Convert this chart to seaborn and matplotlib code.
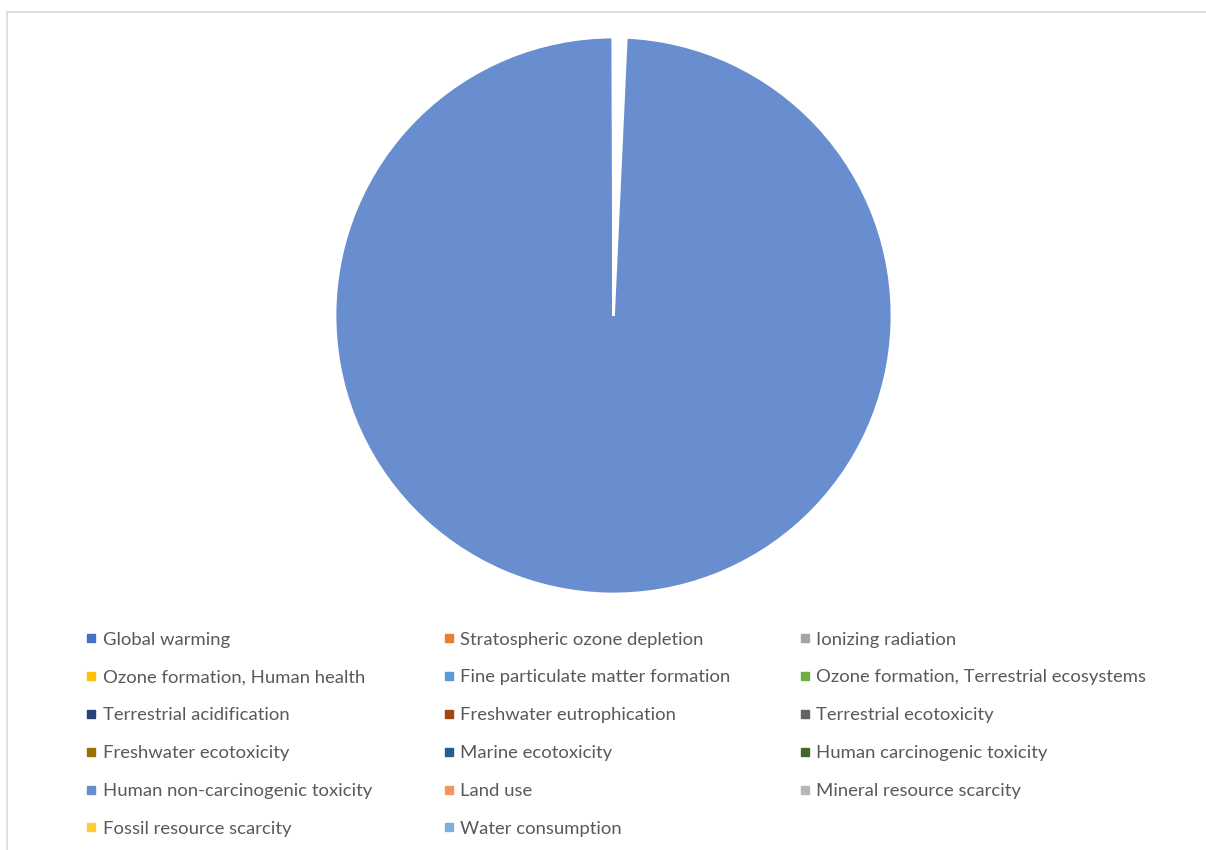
import matplotlib
matplotlib.use("Agg")
import matplotlib.pyplot as plt
from matplotlib.lines import Line2D
from matplotlib.patches import Rectangle
import seaborn as sns

sns.set_theme(style="white")
plt.rcParams["font.family"] = ["Lato", "DejaVu Sans"]

# ReCiPe midpoint impact categories and their share of the total (%)
categories = [
    "Global warming",
    "Stratospheric ozone depletion",
    "Ionizing radiation",
    "Ozone formation, Human health",
    "Fine particulate matter formation",
    "Ozone formation, Terrestrial ecosystems",
    "Terrestrial acidification",
    "Freshwater eutrophication",
    "Terrestrial ecotoxicity",
    "Freshwater ecotoxicity",
    "Marine ecotoxicity",
    "Human carcinogenic toxicity",
    "Human non-carcinogenic toxicity",
    "Land use",
    "Mineral resource scarcity",
    "Fossil resource scarcity",
    "Water consumption",
]
shares = [0.08, 0.01, 0.02, 0.05, 0.07, 0.05, 0.07, 0.06, 0.08, 0.08, 0.08, 0.08,
          99.20, 0.005, 0.002, 0.01, 0.001]

colors = [
    "#4472C4", "#ED7D31", "#A5A5A5", "#FFC000", "#5B9BD5", "#70AD47",
    "#264478", "#9E480E", "#636363", "#997300", "#255E91", "#43682B",
    "#698ED0", "#F1975A", "#B7B7B7", "#FFCD33", "#7CAFDD",
]

W, H = 1206, 850
fig = plt.figure(figsize=(W / 100, H / 100), dpi=100)
fig.patch.set_facecolor("white")

# chart area frame
fig.patches.append(Rectangle((7 / W, -0.1), 1.2, 1 - 12 / H + 0.1,
                             transform=fig.transFigure, fill=False,
                             edgecolor="#D9D9D9", linewidth=1.2))

cx, cy, r = 613.5, 315.5, 278.5
ax = fig.add_axes([(cx - r) / W, 1 - (cy + r) / H, 2 * r / W, 2 * r / H])
ax.pie(shares, colors=colors, startangle=90, counterclock=False,
       wedgeprops=dict(edgecolor="white", linewidth=2.0))
ax.set_xlim(-1, 1)
ax.set_ylim(-1, 1)
ax.set_aspect("equal")
ax.axis("off")

# legend, three columns filled row by row
fs = 13.3
text_color = "#595959"
col_left = [86.4, 443.9, 799.6]
top_px = 631.5
for c in range(3):
    idx = list(range(c, len(categories), 3))
    handles = [Line2D([0], [0], marker="s", linestyle="none", markersize=5.2,
                      markerfacecolor=colors[i], markeredgecolor=colors[i])
               for i in idx]
    labels = [categories[i] for i in idx]
    fig.legend(handles, labels, loc="upper left",
               bbox_to_anchor=(col_left[c] / W, 1 - top_px / H),
               bbox_transform=fig.transFigure, frameon=False,
               fontsize=fs, labelcolor=text_color, handlelength=0.55,
               handletextpad=0.33, borderpad=0, borderaxespad=0,
               labelspacing=1.185)

fig.savefig("out.png", dpi=100, facecolor="white")
